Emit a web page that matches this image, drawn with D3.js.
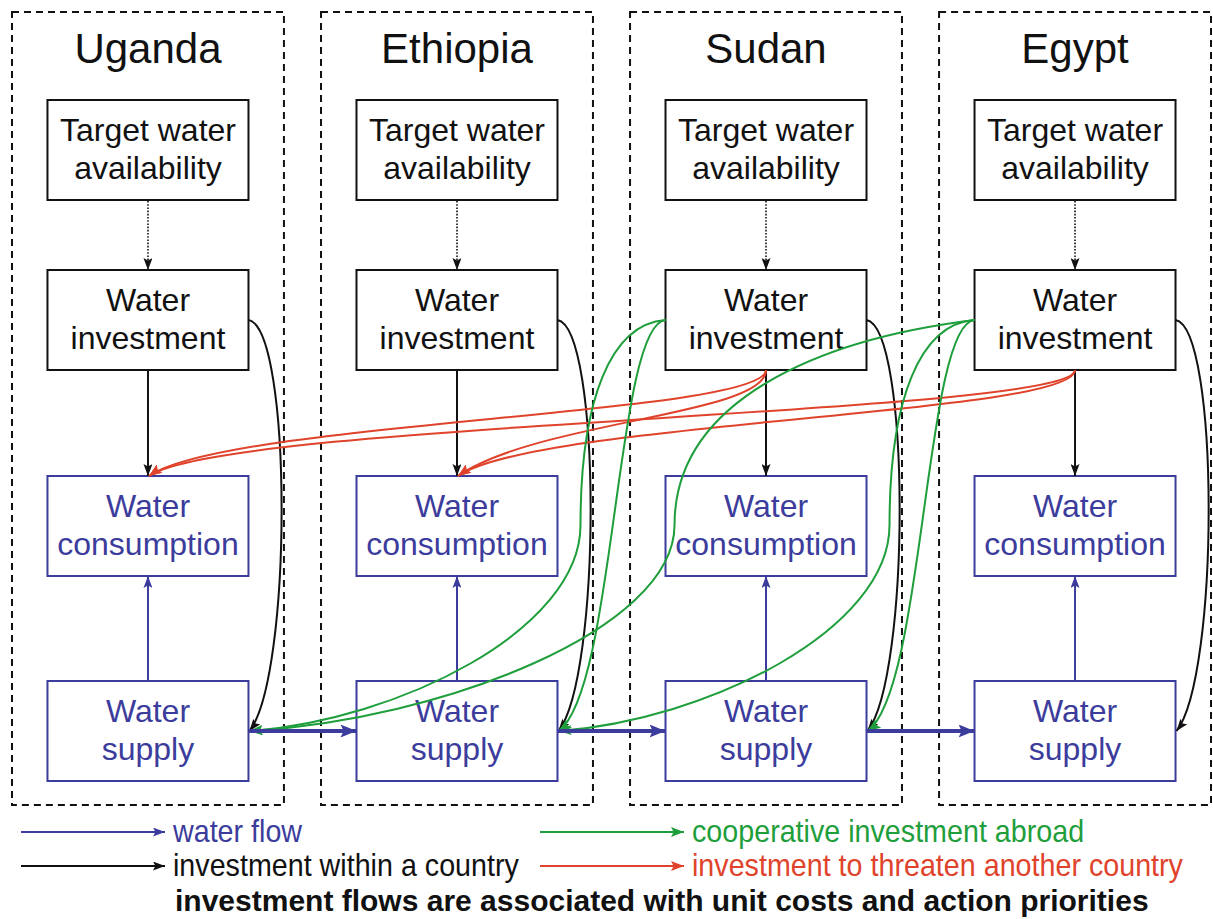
<!DOCTYPE html>
<html>
<head>
<meta charset="utf-8">
<script src="https://cdn.jsdelivr.net/npm/d3@7"></script>
<style>
  html, body { margin: 0; padding: 0; background: #ffffff; }
  svg { display: block; }
  text { font-family: "Liberation Sans", Arial, Helvetica, sans-serif; }
</style>
</head>
<body>
<svg id="chart" width="1213" height="919"></svg>
<script>
// ---------------- data ----------------
const countries = ["Uganda", "Ethiopia", "Sudan", "Egypt"];
const rowNames = ["target", "investment", "consumption", "supply"];
const rowLine1 = ["Target water", "Water", "Water", "Water"];
const rowLine2 = ["availability", "investment", "consumption", "supply"];
const rowKind = ["black", "black", "blue", "blue"];

// water flows downstream (supply -> next supply)
const waterFlow = [["Uganda", "Ethiopia"], ["Ethiopia", "Sudan"], ["Sudan", "Egypt"]];
// cooperative investment abroad (investment -> foreign supply)
const cooperative = [["Sudan", "Ethiopia"], ["Sudan", "Uganda"], ["Egypt", "Sudan"], ["Egypt", "Ethiopia"], ["Egypt", "Uganda"]];
// investment to threaten another country (investment -> foreign consumption)
const threats = [["Sudan", "Uganda"], ["Sudan", "Ethiopia"], ["Egypt", "Uganda"], ["Egypt", "Ethiopia"]];

const legendLabels = ["water flow", "investment within a country", "cooperative investment abroad", "investment to threaten another country"];
const legendKinds = ["blue", "black", "green", "red"];
const footnote = "investment flows are associated with unit costs and action priorities";

// ---------------- styles ----------------
const COLORS = { black: "#111111", blue: "#3c3c9c", green: "#1f9e3c", red: "#e0432b" };

(function () {
const svg = d3.select("#chart");

// scales
const xBand = d3.scaleBand().domain(countries).range([12, 1211]).paddingInner(0.12).paddingOuter(0);
const rowTop = d3.scaleOrdinal().domain(rowNames).range([100, 270, 476, 681]);
const boxW = 201, boxH = 100;
const cxOf = c => xBand(c) + xBand.bandwidth() / 2;
const leftOf = c => cxOf(c) - boxW / 2;
const rightOf = c => cxOf(c) + boxW / 2;
const topOf = r => rowTop(r);
const bottomOf = r => rowTop(r) + boxH;
const midOf = r => rowTop(r) + boxH / 2;

// markers
const defs = svg.append("defs");
function marker(id, color, len, wid) {
  defs.append("marker")
    .attr("id", id)
    .attr("markerUnits", "userSpaceOnUse")
    .attr("viewBox", `0 0 ${len} ${wid}`)
    .attr("refX", len).attr("refY", wid / 2)
    .attr("markerWidth", len).attr("markerHeight", wid)
    .attr("orient", "auto")
    .append("path")
    .attr("d", `M0,0 L${len},${wid / 2} L0,${wid} L${len * 0.2},${wid / 2} Z`)
    .attr("fill", color);
}
marker("arBlack", COLORS.black, 12, 9);
marker("arBlue", COLORS.blue, 12, 9);
marker("arBlueBig", COLORS.blue, 16, 13);
marker("arGreen", COLORS.green, 13, 10);
marker("arRed", COLORS.red, 13, 10);

// ---------------- country frames ----------------
const frames = svg.append("g");
frames.selectAll("rect").data(countries).join("rect")
  .attr("x", d => xBand(d)).attr("y", 12)
  .attr("width", xBand.bandwidth()).attr("height", 793)
  .attr("fill", "none").attr("stroke", "#111").attr("stroke-width", 2)
  .attr("stroke-dasharray", "7,5");
frames.selectAll("text").data(countries).join("text")
  .attr("x", d => cxOf(d)).attr("y", 63)
  .attr("text-anchor", "middle").attr("font-size", 42).attr("fill", "#111")
  .text(d => d);

// ---------------- nodes ----------------
const nodes = [];
countries.forEach(c => rowNames.forEach((r, i) => nodes.push({ c, r, i })));
const ng = svg.append("g").selectAll("g").data(nodes).join("g");
ng.append("rect")
  .attr("x", d => leftOf(d.c)).attr("y", d => topOf(d.r))
  .attr("width", boxW).attr("height", boxH)
  .attr("fill", "#fff").attr("stroke", d => COLORS[rowKind[d.i]]).attr("stroke-width", 2);
ng.append("text")
  .attr("x", d => cxOf(d.c)).attr("y", d => topOf(d.r) + 41)
  .attr("text-anchor", "middle").attr("font-size", 32)
  .attr("fill", d => rowKind[d.i] === "blue" ? COLORS.blue : COLORS.black)
  .text(d => rowLine1[d.i]);
ng.append("text")
  .attr("x", d => cxOf(d.c)).attr("y", d => topOf(d.r) + 79)
  .attr("text-anchor", "middle").attr("font-size", 32)
  .attr("fill", d => rowKind[d.i] === "blue" ? COLORS.blue : COLORS.black)
  .text(d => rowLine2[d.i]);

// ---------------- within-country links ----------------
const links = svg.append("g").attr("fill", "none");
links.selectAll(".dot").data(countries).join("line").attr("class", "dot")
  .attr("x1", d => cxOf(d)).attr("y1", bottomOf("target") + 1)
  .attr("x2", d => cxOf(d)).attr("y2", topOf("investment"))
  .attr("stroke", COLORS.black).attr("stroke-width", 1.6).attr("stroke-dasharray", "1.6,1.6")
  .attr("marker-end", "url(#arBlack)");
links.selectAll(".inv").data(countries).join("line").attr("class", "inv")
  .attr("x1", d => cxOf(d)).attr("y1", bottomOf("investment"))
  .attr("x2", d => cxOf(d)).attr("y2", topOf("consumption"))
  .attr("stroke", COLORS.black).attr("stroke-width", 2)
  .attr("marker-end", "url(#arBlack)");
links.selectAll(".sup").data(countries).join("line").attr("class", "sup")
  .attr("x1", d => cxOf(d)).attr("y1", topOf("supply"))
  .attr("x2", d => cxOf(d)).attr("y2", bottomOf("consumption"))
  .attr("stroke", COLORS.blue).attr("stroke-width", 2)
  .attr("marker-end", "url(#arBlue)");
links.selectAll(".own").data(countries).join("path").attr("class", "own")
  .attr("d", d => {
    const x0 = rightOf(d), y0 = midOf("investment"), y1 = midOf("supply");
    const p = d3.path();
    p.moveTo(x0, y0);
    p.bezierCurveTo(x0 + 44, y0 + 8, x0 + 44, y1 - 55, x0 + 1, y1);
    return p.toString();
  })
  .attr("stroke", COLORS.black).attr("stroke-width", 2)
  .attr("marker-end", "url(#arBlack)");

// ---------------- red threats ----------------
links.selectAll(".red").data(threats).join("path").attr("class", "red")
  .attr("d", ([s, t]) => {
    const x0 = cxOf(s), y0 = bottomOf("investment"), x1 = cxOf(t), y1 = topOf("consumption");
    const p = d3.path();
    p.moveTo(x0, y0);
    p.bezierCurveTo(x0, y0 + 45, x1 + 80, y1 - 55, x1 + 1, y1);
    return p.toString();
  })
  .attr("stroke", COLORS.red).attr("stroke-width", 2)
  .attr("marker-end", "url(#arRed)");

// ---------------- green cooperation ----------------
links.selectAll(".green").data(cooperative).join("path").attr("class", "green")
  .attr("d", ([s, t]) => {
    const dist = countries.indexOf(s) - countries.indexOf(t);
    const x0 = leftOf(s), y0 = midOf("investment"), x1 = rightOf(t) + 1, y1 = midOf("supply");
    const p = d3.path();
    p.moveTo(x0, y0);
    if (dist === 1) {
      p.bezierCurveTo(x0 - 50, y0 + 4, x0 - 50, y1 - 40, x1, y1);
    } else {
      const ch = dist === 2 ? x0 - 85 : x0 - 300;
      const qy = 525;
      if (dist === 2) p.bezierCurveTo(x0 - 55, y0 + 4, ch, y0 + 80, ch, qy);
      else p.bezierCurveTo(x0 - 153, y0 + 19, ch, y0 + 79, ch, qy);
      p.bezierCurveTo(ch, qy + 105, x1 + (ch - x1) * 0.45, y1 - 11, x1, y1);
    }
    return p.toString();
  })
  .attr("stroke", COLORS.green).attr("stroke-width", 2)
  .attr("marker-end", "url(#arGreen)");

// ---------------- blue water flow ----------------
links.selectAll(".flow").data(waterFlow).join("line").attr("class", "flow")
  .attr("x1", ([s]) => rightOf(s)).attr("y1", midOf("supply"))
  .attr("x2", ([, t]) => leftOf(t)).attr("y2", midOf("supply"))
  .attr("stroke", COLORS.blue).attr("stroke-width", 4)
  .attr("marker-end", "url(#arBlueBig)");

// ---------------- legend ----------------
const legendX = [21, 21, 540, 540];
const legendY = [832, 866, 832, 866];
const lg = svg.append("g").selectAll("g").data(legendLabels).join("g");
lg.append("line")
  .attr("x1", (d, i) => legendX[i]).attr("x2", (d, i) => legendX[i] + 144)
  .attr("y1", (d, i) => legendY[i]).attr("y2", (d, i) => legendY[i])
  .attr("stroke", (d, i) => COLORS[legendKinds[i]]).attr("stroke-width", 2)
  .attr("marker-end", (d, i) => {
    const k = legendKinds[i];
    return `url(#ar${k[0].toUpperCase() + k.slice(1)})`;
  });
lg.append("text")
  .attr("transform", (d, i) => `translate(${legendX[i] + 152},${legendY[i] + 10}) scale(0.925,1)`)
  .attr("font-size", 31)
  .attr("fill", (d, i) => COLORS[legendKinds[i]])
  .text(d => d);

svg.append("text")
  .attr("transform", "translate(175,911)")
  .attr("font-size", 30).attr("font-weight", "bold").attr("fill", "#111")
  .text(footnote);
})();
</script>
</body>
</html>
